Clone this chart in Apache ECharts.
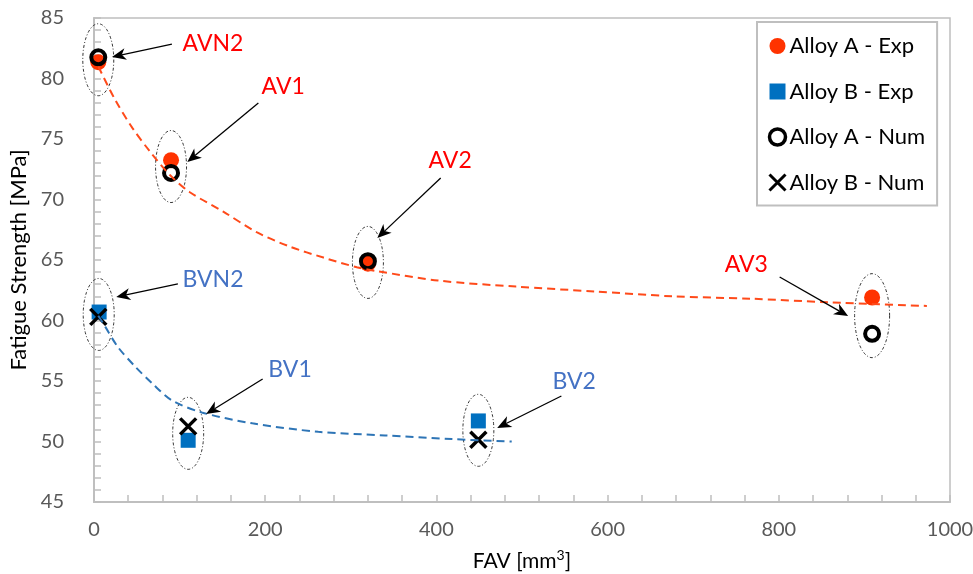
<!DOCTYPE html>
<html>
<head>
<meta charset="utf-8">
<script src="https://cdn.jsdelivr.net/npm/echarts@6/dist/echarts.min.js"></script>
<style>html,body{margin:0;padding:0;background:#fff}#c{width:973px;height:574px}</style>
</head>
<body>
<div id="c"></div>
<script>
// ---- data ----
const alloyAExpX = [5, 90, 320, 909];
const alloyAExpY = [81.35, 73.25, 64.7, 61.9];
const alloyBExpX = [6, 110, 449];
const alloyBExpY = [60.7, 50.1, 51.7];
const alloyANumX = [5, 90, 320, 909];
const alloyANumY = [81.75, 72.2, 64.9, 58.9];
const alloyBNumX = [5, 110, 449];
const alloyBNumY = [60.3, 51.25, 50.15];
const trendAX = [5, 25, 45, 65, 89, 112, 151, 190, 229, 268, 307, 329, 402, 493, 585, 676, 768, 859, 973];
const trendAY = [81.0, 78.2, 75.9, 74.0, 72.0, 70.6, 69.0, 67.3, 66.1, 65.2, 64.4, 64.1, 63.3, 62.8, 62.4, 62.0, 61.8, 61.5, 61.2];
const trendBX = [5, 13, 28, 48, 68, 91, 126, 185, 262, 340, 418, 488];
const trendBY = [60.4, 59.5, 57.8, 56.2, 54.8, 53.4, 52.4, 51.5, 50.8, 50.5, 50.2, 50.0];
const xTicks = [0, 200, 400, 600, 800, 1000];
const yTicks = [45, 50, 55, 60, 65, 70, 75, 80, 85];
const seriesNames = ['Alloy A - Exp', 'Alloy B - Exp', 'Alloy A - Num', 'Alloy B - Num'];
// annotation labels and arrows (data units)
const annLabels = ['AVN2', 'AV1', 'AV2', 'AV3', 'BVN2', 'BV1', 'BV2'];
const annLabelX = [139, 221, 416, 762, 139, 229, 561];
const annLabelY = [82.85, 79.3, 73.18, 64.59, 63.35, 55.91, 54.92];
const annTailX = [91, 192, 405, 801, 98, 197, 546];
const annTailY = [82.85, 77.98, 71.78, 63.6, 63.02, 55.17, 53.76];
const annTipX = [21, 109, 331, 881, 26, 131, 471];
const annTipY = [81.78, 73.1, 66.82, 60.37, 61.94, 52.27, 51.12];
const annGroup = ['A', 'A', 'A', 'A', 'B', 'B', 'B'];

const RED = '#FF3300', BLUE = '#0070C0', LABEL_RED = '#FF0000', LABEL_BLUE = '#4472C4';
const FONT = 'Lato, "Open Sans", sans-serif';

const zip = (xs, ys) => xs.map((x, i) => [x, ys[i]]);

const ellipses = [];
alloyAExpX.forEach((x, i) => ellipses.push([(x + alloyANumX[i]) / 2, (alloyAExpY[i] + alloyANumY[i]) / 2, i === 3 ? 1 : 0]));
alloyBExpX.forEach((x, i) => ellipses.push([(x + alloyBNumX[i]) / 2, (alloyBExpY[i] + alloyBNumY[i]) / 2, 0]));

const annData = annLabels.map((t, i) => ({
  name: t,
  value: [annLabelX[i], annLabelY[i], annTailX[i], annTailY[i], annTipX[i], annTipY[i], annGroup[i] === 'A' ? 0 : 1]
}));

const chart = echarts.init(document.getElementById('c'), null, { renderer: 'canvas' });
const XPATH = 'path://M0,0L10,10M10,0L0,10';

chart.setOption({
  animation: false,
  backgroundColor: '#fff',
  textStyle: { fontFamily: FONT },
  grid: { left: 94, right: 23, top: 18, bottom: 72, show: true, borderColor: '#BFBFBF', borderWidth: 1.5,
    backgroundColor: 'transparent', containLabel: false, outerBoundsMode: 'none' },
  xAxis: {
    type: 'value', min: xTicks[0], max: xTicks[xTicks.length - 1], interval: 200,
    name: 'FAV [mm{sup|3}]', nameLocation: 'middle', nameGap: 46,
    nameTextStyle: { color: '#000', fontSize: 21, fontFamily: FONT, lineHeight: 26,
      rich: { sup: { fontSize: 14, lineHeight: 14, verticalAlign: 'top', color: '#000', fontFamily: FONT } } },
    axisLine: { lineStyle: { color: '#BFBFBF', width: 2 } },
    axisTick: { show: true, inside: true, length: 7, lineStyle: { color: '#BFBFBF', width: 1.5 } },
    minorTick: { show: true, splitNumber: 5, length: 7, lineStyle: { color: '#BFBFBF', width: 1.5 } },
    axisLabel: { color: '#595959', fontSize: 20, margin: 18, fontFamily: FONT, formatter: v => String(v) },
    splitLine: { show: false }
  },
  yAxis: {
    type: 'value', min: yTicks[0], max: yTicks[yTicks.length - 1], interval: 5,
    name: 'Fatigue Strength [MPa]', nameLocation: 'middle', nameGap: 63,
    nameTextStyle: { color: '#000', fontSize: 22, fontFamily: FONT },
    axisLine: { show: true, lineStyle: { color: '#BFBFBF', width: 2 } },
    axisTick: { show: true, inside: true, length: 7, lineStyle: { color: '#BFBFBF', width: 1.5 } },
    minorTick: { show: true, splitNumber: 5, length: 7, lineStyle: { color: '#BFBFBF', width: 1.5 } },
    axisLabel: { color: '#595959', fontSize: 20, margin: 30, fontFamily: FONT },
    splitLine: { show: false }
  },
  legend: {
    orient: 'vertical', left: 757, top: 22,
    data: [
      { name: seriesNames[0], icon: 'circle', itemStyle: { color: RED } },
      { name: seriesNames[1], icon: 'rect', itemStyle: { color: BLUE } },
      { name: seriesNames[2], icon: 'circle', itemStyle: { color: '#fff', borderColor: '#000', borderWidth: 3.5 } },
      { name: seriesNames[3], icon: XPATH, itemStyle: { color: 'none', borderColor: '#000', borderWidth: 3 } }
    ],
    itemWidth: 16, itemHeight: 16, itemGap: 23.5,
    padding: [13, 12, 12, 10],
    borderColor: '#BFBFBF', borderWidth: 2, backgroundColor: '#fff',
    selectedMode: false,
    textStyle: { fontSize: 22, color: '#000', fontFamily: FONT, lineHeight: 22, padding: [0, 0, 0, -1] }
  },
  series: [
    {
      name: 'ellipses', type: 'custom', coordinateSystem: 'cartesian2d', silent: true, z: 1,
      data: ellipses,
      renderItem: function (params, api) {
        const c = api.coord([api.value(0), api.value(1)]);
        const big = api.value(2) === 1;
        const rx = big ? 17.5 : 15.5, ry = big ? 42 : 36;
        const pts = [];
        for (let k = 0; k <= 96; k++) {
          const a = k / 96 * Math.PI * 2;
          pts.push([c[0] + rx * Math.cos(a), c[1] + ry * Math.sin(a)]);
        }
        return { type: 'polyline', shape: { points: pts }, style: { fill: null, stroke: '#333', lineWidth: 1, lineDash: [3, 2, 1, 2] } };
      }
    },
    { name: seriesNames[0], type: 'scatter', data: zip(alloyAExpX, alloyAExpY), symbol: 'circle', symbolSize: 16, itemStyle: { color: RED, opacity: 1 }, z: 3 },
    { name: seriesNames[1], type: 'scatter', data: zip(alloyBExpX, alloyBExpY), symbol: 'rect', symbolSize: 15, itemStyle: { color: BLUE, opacity: 1 }, z: 3 },
    { name: seriesNames[2], type: 'scatter', data: zip(alloyANumX, alloyANumY), symbol: 'circle', symbolSize: 14, itemStyle: { color: 'rgba(0,0,0,0)', borderColor: '#000', borderWidth: 4, opacity: 1 }, z: 4 },
    { name: seriesNames[3], type: 'scatter', data: zip(alloyBNumX, alloyBNumY), symbol: XPATH, symbolSize: 16, itemStyle: { color: 'none', borderColor: '#000', borderWidth: 3.5, opacity: 1 }, z: 4 },
    { name: 'trendA', type: 'line', data: zip(trendAX, trendAY), smooth: 0.3, showSymbol: false, silent: true, z: 5,
      lineStyle: { color: '#FF4A1A', width: 2, type: [8, 5] } },
    { name: 'trendB', type: 'line', data: zip(trendBX, trendBY), smooth: 0.3, showSymbol: false, silent: true, z: 5,
      lineStyle: { color: '#2E75B6', width: 2, type: [8, 5] } },
    {
      name: 'annotations', type: 'custom', coordinateSystem: 'cartesian2d', silent: true, z: 6,
      data: annData,
      renderItem: function (params, api) {
        const lab = api.coord([api.value(0), api.value(1)]);
        const tail = api.coord([api.value(2), api.value(3)]);
        const tip = api.coord([api.value(4), api.value(5)]);
        const isA = api.value(6) === 0;
        const dx = tip[0] - tail[0], dy = tip[1] - tail[1];
        const len = Math.sqrt(dx * dx + dy * dy);
        const ux = dx / len, uy = dy / len, nx = -uy, ny = ux;
        const L = 14, W = 6, N = 4;
        const base = [tip[0] - ux * L, tip[1] - uy * L];
        const notch = [tip[0] - ux * (L - N), tip[1] - uy * (L - N)];
        return {
          type: 'group',
          children: [
            { type: 'line', shape: { x1: tail[0], y1: tail[1], x2: notch[0], y2: notch[1] }, style: { stroke: '#000', lineWidth: 1.3 } },
            { type: 'polygon', shape: { points: [tip, [base[0] + nx * W, base[1] + ny * W], notch, [base[0] - nx * W, base[1] - ny * W]] }, style: { fill: '#000' } },
            { type: 'text', x: lab[0], y: lab[1], style: { text: annLabels[params.dataIndex], fill: isA ? LABEL_RED : LABEL_BLUE, font: '23px ' + FONT, align: 'center', verticalAlign: 'middle' } }
          ]
        };
      }
    }
  ]
});
</script>
</body>
</html>
